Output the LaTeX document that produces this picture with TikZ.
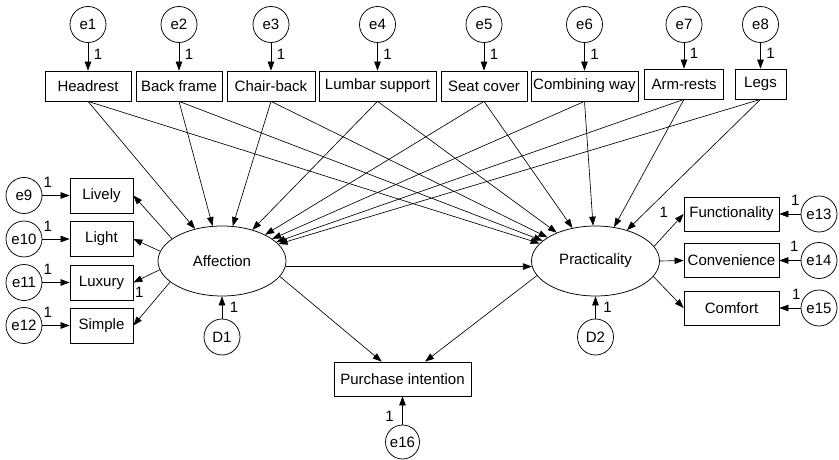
\documentclass[tikz,border=0pt]{standalone}
\usepackage{fontspec}
\setmainfont{Liberation Sans}
\usetikzlibrary{arrows.meta,shapes.geometric}

\begin{document}
\begin{tikzpicture}[x=1pt,y=-1pt,
  font=\fontsize{15}{17}\selectfont,
  obs/.style={draw,line width=0.75pt,minimum height=30pt,inner sep=1pt},
  err/.style={draw,circle,line width=0.75pt,minimum size=36pt,inner sep=0pt},
  lat/.style={draw,ellipse,line width=0.75pt,minimum width=128pt,minimum height=70pt,inner sep=0pt},
  arr/.style={-{Triangle[length=9pt,width=6.5pt]},line width=0.65pt},
  one/.style={inner sep=1.5pt}
]
\useasboundingbox (0,0) rectangle (839,460);

% observed indicators along the top
\node[obs,minimum width=86pt]  (b1) at (88,86)    {Headrest};
\node[obs,minimum width=86pt]  (b2) at (179,86)   {Back frame};
\node[obs,minimum width=88pt]  (b3) at (271,86)   {Chair-back};
\node[obs,minimum width=117pt] (b4) at (377.5,86) {Lumbar support};
\node[obs,minimum width=86pt]  (b5) at (484,86)   {Seat cover};
\node[obs,minimum width=107pt] (b6) at (584.5,86) {Combining way};
\node[obs,minimum width=79pt]  (b7) at (684,84)   {Arm-rests};
\node[obs,minimum width=51pt]  (b8) at (760.5,84) {Legs};

% their error terms
\node[err] (e1) at (88,24.5)    {e1};
\node[err] (e2) at (179,24.5)   {e2};
\node[err] (e3) at (271,24.5)   {e3};
\node[err] (e4) at (377.5,24.5) {e4};
\node[err] (e5) at (484,24.5)   {e5};
\node[err] (e6) at (584.5,24.5) {e6};
\node[err] (e7) at (684,24.5)   {e7};
\node[err] (e8) at (760.5,24.5) {e8};
\foreach \i in {1,...,8}
  \draw[arr] (e\i) -- node[one,right=4pt,pos=0.4]{1} (b\i);

% latent variables
\node[lat] (aff)  at (222,261)   {Affection};
\node[lat] (prac) at (595.5,261) {Practicality};

% structural paths from the top indicators
\foreach \i in {1,...,8} {
  \draw[arr] (b\i.south) -- (aff);
  \draw[arr] (b\i.south) -- (prac);
}

% Affection indicators
\node[obs,minimum width=63pt,minimum height=35pt] (m1) at (101.5,195.5) {Lively};
\node[obs,minimum width=63pt,minimum height=35pt] (m2) at (101.5,239)   {Light};
\node[obs,minimum width=63pt,minimum height=35pt] (m3) at (101.5,282.5) {Luxury};
\node[obs,minimum width=63pt,minimum height=35pt] (m4) at (101.5,325.5) {Simple};
\node[err] (e9)  at (24,195.5) {e9};
\node[err] (e10) at (24,239)   {e10};
\node[err] (e11) at (24,282.5) {e11};
\node[err] (e12) at (24,325.5) {e12};
\draw[arr] (e9)  -- node[one,above=6pt,pos=0.2]{1} (m1);
\draw[arr] (e10) -- node[one,above=6pt,pos=0.2]{1} (m2);
\draw[arr] (e11) -- node[one,above=6pt,pos=0.2]{1} (m3);
\draw[arr] (e12) -- node[one,above=6pt,pos=0.2]{1} (m4);
\draw[arr] (aff.156) -- (m1.east);
\draw[arr] (aff.171) -- (m2.east);
\draw[arr] (aff.188) -- node[one,pos=1,anchor=north west,yshift=-3pt]{1} (m3.east);
\draw[arr] (aff.202) -- (m4.east);

% Practicality indicators
\node[obs,minimum width=95pt,minimum height=34pt] (r1) at (731.5,214)   {Functionality};
\node[obs,minimum width=95pt,minimum height=34pt] (r2) at (731.5,260.5) {Convenience};
\node[obs,minimum width=95pt,minimum height=34pt] (r3) at (731.5,308)   {Comfort};
\node[err] (e13) at (819,214)   {e13};
\node[err] (e14) at (819,260.5) {e14};
\node[err] (e15) at (819,308)   {e15};
\draw[arr] (e13) -- node[one,above=7pt,pos=0.25]{1} (r1);
\draw[arr] (e14) -- node[one,above=7pt,pos=0.3]{1} (r2);
\draw[arr] (e15) -- node[one,above=7pt,pos=0.2]{1} (r3);
\draw[arr] (prac.14) -- node[one,pos=0.8,anchor=south east,xshift=-8pt,yshift=1pt]{1} (r1.west);
\draw[arr] (prac.east) -- (r2.west);
\draw[arr] (prac.-15) -- (r3.west);

% disturbances
\node[err] (d1) at (222,337)   {D1};
\node[err] (d2) at (595.5,337) {D2};
\draw[arr] (d1) -- node[one,right=6pt]{1} (aff);
\draw[arr] (d2) -- node[one,right=6pt]{1} (prac);

% latent-to-latent and outcome
\draw[arr] (aff.-5) -- (prac.185);
\node[obs,minimum width=137pt,minimum height=34pt] (pi) at (402.5,379) {Purchase intention};
\node[err,minimum size=34pt] (e16) at (402.5,442) {e16};
\draw[arr] (aff.-15) -- (pi);
\draw[arr] (prac.194) -- (pi);
\draw[arr] (e16) -- node[one,left=7pt,pos=0.3]{1} (pi);
\end{tikzpicture}
\end{document}
